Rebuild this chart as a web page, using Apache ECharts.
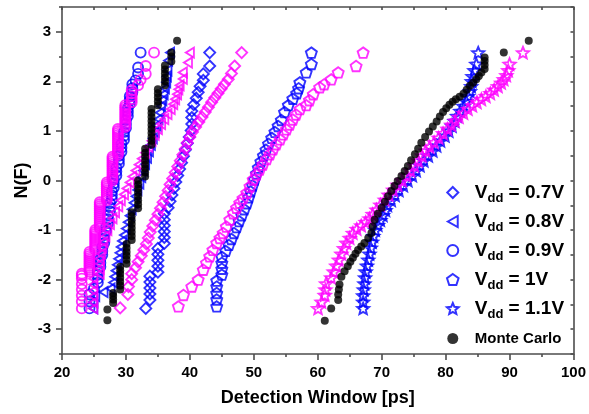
<!DOCTYPE html>
<html><head><meta charset="utf-8">
<script src="https://cdn.jsdelivr.net/npm/echarts@6/dist/echarts.min.js"></script>
<style>html,body{margin:0;padding:0;background:#fff}#c{width:589px;height:414px}</style>
</head><body><div id="c"></div>
<script>
// ---- data ([detection window ps, N(F)]) ----
const blue07 = [[33.1,-2.58],[33.75,-2.41],[33.75,-2.29],[33.75,-2.17],[33.75,-2.05],[33.75,-1.93],[35.0,-1.85],[35.0,-1.73],[35.0,-1.61],[35.0,-1.49],[35.0,-1.37],[36.0,-1.27],[36.0,-1.15],[36.0,-1.03],[36.0,-0.91],[36.0,-0.79],[36.0,-0.67],[36.6,-0.55],[36.9,-0.42],[37.2,-0.29],[37.5,-0.16],[37.8,-0.03],[38.1,0.1],[38.4,0.23],[38.7,0.36],[39.0,0.49],[39.3,0.62],[39.6,0.75],[39.9,0.88],[40.2,1.01],[40.3,1.14],[40.3,1.27],[40.3,1.4],[40.6,1.53],[41.0,1.66],[41.3,1.78],[41.6,1.9],[42.1,2.02],[42.1,2.15],[43.1,2.31],[43.1,2.58]];
const mag07 = [[29.1,-2.57],[30.3,-2.3],[30.4,-2.14],[30.9,-2.0],[30.9,-1.88],[31.5,-1.76],[31.9,-1.64],[32.4,-1.52],[32.8,-1.4],[33.2,-1.28],[33.5,-1.16],[33.8,-1.04],[34.2,-0.92],[34.6,-0.8],[35.0,-0.68],[35.4,-0.56],[35.8,-0.44],[36.2,-0.32],[36.6,-0.2],[36.9,-0.08],[37.3,0.04],[37.7,0.16],[38.1,0.28],[38.5,0.4],[38.9,0.52],[39.3,0.64],[39.6,0.76],[40.0,0.88],[40.4,0.98],[40.9,1.08],[41.4,1.18],[41.9,1.28],[42.4,1.38],[42.9,1.48],[43.4,1.58],[43.9,1.67],[44.4,1.76],[44.9,1.85],[45.4,1.94],[46.0,2.04],[46.5,2.16],[47.0,2.31],[48.1,2.58]];
const blue08 = [[24.9,-2.58],[24.9,-2.45],[25.2,-2.33],[26.5,-2.25],[27.6,-2.18],[28.0,-2.06],[28.2,-1.94],[28.4,-1.82],[28.6,-1.7],[28.8,-1.58],[29.0,-1.46],[29.2,-1.34],[29.4,-1.22],[29.7,-1.1],[30.0,-0.97],[30.3,-0.84],[30.6,-0.71],[30.9,-0.58],[31.2,-0.45],[31.5,-0.32],[31.8,-0.19],[32.1,-0.06],[32.4,0.07],[32.7,0.2],[33.0,0.33],[33.3,0.46],[33.6,0.59],[33.9,0.72],[34.2,0.85],[34.5,0.98],[34.8,1.11],[35.1,1.24],[35.3,1.37],[35.5,1.5],[35.7,1.62],[35.9,1.74],[36.1,1.86],[36.3,1.98],[36.4,2.1],[36.5,2.22],[36.6,2.42],[36.9,2.58]];
const mag08 = [[24.9,-2.58],[24.9,-2.46],[24.9,-2.34],[24.9,-2.22],[24.9,-2.1],[24.9,-1.98],[25.9,-1.88],[25.9,-1.78],[25.9,-1.68],[25.9,-1.58],[26.1,-1.48],[26.3,-1.36],[26.5,-1.24],[26.8,-1.12],[27.1,-1.0],[27.5,-0.88],[27.9,-0.76],[28.3,-0.64],[28.8,-0.52],[29.2,-0.4],[29.7,-0.28],[30.1,-0.16],[30.6,-0.04],[31.0,0.08],[31.5,0.2],[32.0,0.32],[32.5,0.44],[33.0,0.56],[33.5,0.68],[34.0,0.8],[34.5,0.92],[35.0,1.04],[35.5,1.14],[36.0,1.24],[36.5,1.34],[37.0,1.44],[37.4,1.54],[37.7,1.64],[38.0,1.74],[38.2,1.84],[38.4,1.92],[38.9,2.05],[38.9,2.18],[39.7,2.38],[40.0,2.58]];
const blue09 = [[24.3,-2.58],[24.3,-2.44],[24.3,-2.3],[25.0,-2.18],[25.6,-2.06],[25.6,-1.98],[25.6,-1.9],[25.6,-1.82],[26.0,-1.74],[26.0,-1.66],[26.0,-1.58],[26.3,-1.5],[26.3,-1.42],[26.3,-1.34],[26.6,-1.26],[26.6,-1.18],[26.6,-1.1],[26.9,-1.02],[26.9,-0.94],[27.2,-0.86],[27.2,-0.78],[27.2,-0.7],[27.5,-0.62],[27.5,-0.54],[27.5,-0.46],[27.8,-0.38],[27.8,-0.3],[27.8,-0.22],[28.1,-0.14],[28.1,-0.06],[28.1,0.02],[28.5,0.1],[28.5,0.18],[28.5,0.26],[28.9,0.34],[28.9,0.42],[28.9,0.5],[29.3,0.58],[29.3,0.66],[29.3,0.74],[29.7,0.82],[29.7,0.9],[29.7,0.98],[30.0,1.06],[30.0,1.14],[30.0,1.22],[30.3,1.3],[30.3,1.38],[30.3,1.46],[30.6,1.54],[30.6,1.62],[30.6,1.7],[31.0,1.78],[31.0,1.86],[31.0,1.94],[31.5,2.02],[31.9,2.15],[31.9,2.28],[32.3,2.58]];
const mag09 = [[23.1,-2.58],[23.1,-2.44],[23.1,-2.32],[23.1,-2.2],[23.1,-2.09],[23.1,-1.98],[23.1,-1.92],[23.1,-1.88],[24.3,-1.84],[24.3,-1.8],[24.3,-1.76],[24.3,-1.72],[24.3,-1.68],[24.3,-1.64],[24.3,-1.6],[24.3,-1.56],[24.3,-1.52],[24.3,-1.48],[24.3,-1.44],[25.2,-1.4],[25.2,-1.36],[25.2,-1.32],[25.2,-1.28],[25.2,-1.24],[25.2,-1.2],[25.2,-1.16],[25.2,-1.12],[25.2,-1.08],[25.2,-1.04],[25.2,-1.0],[25.9,-0.96],[25.9,-0.92],[25.9,-0.88],[25.9,-0.84],[25.9,-0.8],[25.9,-0.76],[25.9,-0.72],[25.9,-0.68],[25.9,-0.64],[25.9,-0.6],[25.9,-0.56],[25.9,-0.52],[25.9,-0.48],[25.9,-0.44],[27.0,-0.4],[27.0,-0.36],[27.0,-0.32],[27.0,-0.28],[27.0,-0.24],[27.0,-0.2],[27.0,-0.16],[27.0,-0.12],[27.0,-0.08],[27.0,-0.04],[27.9,0.0],[27.9,0.04],[27.9,0.08],[27.9,0.12],[27.9,0.16],[27.9,0.2],[27.9,0.24],[27.9,0.28],[27.9,0.32],[27.9,0.36],[27.9,0.4],[27.9,0.44],[27.9,0.48],[28.75,0.52],[28.75,0.56],[28.75,0.6],[28.75,0.64],[28.75,0.68],[28.75,0.72],[28.75,0.76],[28.75,0.8],[28.75,0.84],[28.75,0.88],[28.75,0.92],[28.75,0.96],[28.75,1.0],[28.75,1.04],[29.9,1.08],[29.9,1.12],[29.9,1.16],[29.9,1.2],[29.9,1.24],[29.9,1.28],[29.9,1.32],[29.9,1.36],[29.9,1.4],[29.9,1.44],[29.9,1.48],[29.9,1.52],[30.9,1.58],[30.9,1.64],[30.9,1.7],[30.9,1.76],[30.9,1.82],[31.9,1.92],[32.3,2.03],[33.1,2.15],[33.1,2.31],[34.4,2.58]];
const blue10 = [[44.2,-2.54],[44.2,-2.4],[44.2,-2.27],[44.2,-2.14],[44.2,-2.02],[45.0,-1.9],[45.0,-1.78],[45.0,-1.66],[45.0,-1.54],[45.6,-1.42],[46.1,-1.3],[46.5,-1.18],[46.9,-1.06],[47.3,-0.94],[47.7,-0.82],[48.1,-0.7],[48.5,-0.58],[48.9,-0.46],[49.2,-0.34],[49.5,-0.22],[49.8,-0.1],[50.1,0.02],[50.4,0.14],[50.7,0.26],[51.1,0.38],[51.5,0.5],[51.9,0.62],[52.3,0.74],[52.8,0.86],[53.3,0.98],[53.8,1.1],[54.3,1.22],[54.8,1.38],[55.4,1.52],[56.1,1.65],[56.7,1.76],[57.0,1.86],[57.2,1.98],[58.2,2.18],[59.0,2.35],[59.0,2.58]];
const mag10 = [[38.2,-2.54],[39.0,-2.31],[40.3,-2.14],[41.3,-2.0],[42.1,-1.8],[42.6,-1.66],[43.1,-1.53],[43.6,-1.4],[44.2,-1.26],[44.7,-1.16],[45.2,-1.06],[45.7,-0.93],[46.25,-0.79],[46.8,-0.66],[47.3,-0.55],[47.8,-0.45],[48.3,-0.36],[48.9,-0.25],[49.4,-0.12],[49.9,0.02],[50.4,0.12],[50.9,0.22],[51.4,0.32],[52.0,0.43],[52.5,0.53],[53.0,0.63],[53.5,0.73],[54.1,0.83],[54.6,0.93],[55.1,1.03],[55.6,1.13],[56.1,1.23],[56.6,1.33],[57.2,1.44],[58.2,1.52],[58.7,1.62],[59.3,1.74],[60.3,1.88],[61.0,1.94],[62.1,2.04],[63.2,2.18],[66.0,2.31],[67.1,2.58]];
const blue11 = [[67.1,-2.58],[67.1,-2.45],[67.1,-2.32],[67.2,-2.2],[67.3,-2.08],[67.4,-1.96],[67.5,-1.84],[67.7,-1.72],[67.9,-1.6],[68.1,-1.48],[68.3,-1.36],[68.5,-1.24],[68.7,-1.12],[69.0,-1.0],[69.4,-0.9],[69.8,-0.8],[70.2,-0.7],[70.6,-0.6],[70.9,-0.5],[71.5,-0.4],[72.1,-0.3],[72.7,-0.2],[73.4,-0.1],[74.1,0.0],[74.8,0.1],[75.4,0.2],[76.0,0.3],[76.6,0.4],[77.3,0.5],[78.0,0.6],[78.6,0.7],[79.2,0.8],[79.9,0.9],[80.5,1.0],[81.0,1.1],[81.4,1.2],[81.8,1.3],[82.3,1.4],[82.8,1.5],[83.2,1.6],[83.5,1.7],[83.8,1.8],[84.0,1.9],[84.1,2.0],[84.2,2.1],[84.5,2.22],[84.8,2.35],[85.1,2.58]];
const mag11 = [[60.05,-2.58],[60.6,-2.45],[61.1,-2.31],[61.2,-2.2],[61.3,-2.08],[62.1,-1.96],[62.5,-1.84],[62.9,-1.72],[63.3,-1.6],[63.7,-1.48],[64.1,-1.37],[64.5,-1.26],[65.0,-1.16],[65.5,-1.06],[66.1,-0.98],[66.8,-0.91],[67.5,-0.84],[68.1,-0.77],[68.6,-0.68],[69.2,-0.59],[69.8,-0.49],[70.5,-0.39],[71.1,-0.29],[71.8,-0.19],[72.5,-0.09],[73.2,0.0],[73.9,0.1],[74.5,0.2],[75.1,0.3],[75.7,0.4],[76.3,0.5],[76.9,0.6],[77.5,0.68],[78.2,0.77],[78.9,0.86],[79.6,0.95],[80.3,1.04],[80.9,1.12],[81.5,1.2],[82.1,1.28],[82.8,1.36],[83.5,1.44],[84.2,1.51],[84.9,1.58],[85.6,1.64],[86.3,1.7],[87.0,1.76],[87.6,1.83],[88.2,1.9],[88.7,1.97],[89.1,2.04],[89.5,2.12],[89.8,2.22],[90.0,2.35],[92.1,2.58]];
const mcLeft = [[27.1,-2.82],[27.1,-2.6],[28.0,-2.47],[28.0,-2.4],[28.0,-2.33],[28.0,-2.27],[29.1,-2.2],[29.1,-2.12],[29.1,-2.04],[29.1,-1.96],[29.1,-1.88],[29.1,-1.81],[29.1,-1.74],[30.1,-1.68],[30.1,-1.6],[30.1,-1.52],[30.1,-1.44],[30.1,-1.36],[30.1,-1.28],[30.9,-1.2],[30.9,-1.12],[30.9,-1.04],[30.9,-0.96],[30.9,-0.88],[30.9,-0.8],[30.9,-0.72],[30.9,-0.64],[31.9,-0.56],[31.9,-0.48],[31.9,-0.4],[31.9,-0.32],[31.9,-0.24],[31.9,-0.16],[31.9,-0.08],[31.9,0.0],[33.0,0.08],[33.0,0.16],[33.0,0.24],[33.0,0.32],[33.0,0.4],[33.0,0.48],[33.0,0.56],[33.0,0.64],[34.0,0.72],[34.0,0.8],[34.0,0.88],[34.0,0.96],[34.0,1.04],[34.0,1.12],[34.0,1.2],[34.0,1.28],[34.0,1.36],[34.0,1.44],[35.0,1.52],[35.0,1.6],[35.0,1.68],[35.0,1.76],[35.0,1.84],[36.1,1.92],[36.1,2.0],[36.1,2.08],[36.1,2.16],[36.1,2.24],[36.1,2.32],[37.1,2.4],[37.1,2.5],[37.1,2.58],[38.0,2.82]];
const mcRight = [[61.1,-2.83],[62.1,-2.58],[63.2,-2.41],[63.2,-2.3],[63.3,-2.2],[63.4,-2.1],[63.7,-1.94],[64.2,-1.83],[64.7,-1.73],[65.1,-1.64],[65.5,-1.56],[65.9,-1.48],[66.3,-1.4],[66.8,-1.33],[67.3,-1.26],[67.9,-1.16],[68.4,-1.06],[68.6,-0.93],[68.9,-0.79],[69.4,-0.67],[70.0,-0.55],[70.5,-0.43],[71.0,-0.32],[71.5,-0.21],[72.0,-0.11],[72.5,-0.01],[73.1,0.09],[73.6,0.19],[74.1,0.29],[74.6,0.41],[75.2,0.53],[75.7,0.64],[76.2,0.76],[76.8,0.88],[77.4,0.99],[78.0,1.09],[78.6,1.19],[79.1,1.29],[79.6,1.38],[80.1,1.46],[80.6,1.53],[81.1,1.59],[81.6,1.64],[82.2,1.69],[82.8,1.75],[83.3,1.83],[83.8,1.91],[84.3,1.97],[84.8,2.04],[85.2,2.11],[85.6,2.18],[86.1,2.25],[86.1,2.33],[86.1,2.41],[86.1,2.48],[89.1,2.58],[93.0,2.82]];
const legendNames = ['0.7V','0.8V','0.9V','1V','1.1V','Monte Carlo'];
const yTickMajor = [-3,-2,-1,0,1,2,3];
const yTickMinor = [-3.5,-2.5,-1.5,-0.5,0.5,1.5,2.5,3.5];

const BLUE = '#0000ff', MAG = '#ff00ff', BLK = '#000000';
const SYM = {
  diamond: 'path://M5,0L10,5L5,10L0,5Z',
  tri: 'path://M0,5L9,0L9,10Z',
  circle: 'circle',
  pent: 'path://M10,0L19.51,6.91L15.88,18.09L4.12,18.09L0.49,6.91Z',
  star: 'path://M10,0L12.65,6.36L19.51,6.91L14.28,11.39L15.88,18.09L10,14.5L4.12,18.09L5.72,11.39L0.49,6.91L7.35,6.36Z'
};
function sc(name, data, symbol, size, color, filled) {
  return {
    type: 'scatter', name: name, data: data, symbol: symbol, symbolSize: size,
    symbolKeepAspect: true, silent: true, animation: false,
    itemStyle: filled ? { color: color } : { color: 'rgba(0,0,0,0)', borderColor: color, borderWidth: 1.9 },
    emphasis: { disabled: true }
  };
}
const FONT = 'Liberation Sans, Arial, sans-serif';
const AX = { color: '#4d4d4d', width: 1.6 };

const chart = echarts.init(document.getElementById('c'), null, { renderer: 'canvas' });
chart.setOption({
  animation: false,
  backgroundColor: '#fff',
  grid: { left: 62, right: 15, top: 7, bottom: 60 },
  legend: {
    data: legendNames, orient: 'vertical', left: 441, top: 175,
    itemWidth: 34, itemHeight: 11, itemGap: 4, selectedMode: false,
    textStyle: {
      color: '#000', fontFamily: FONT, fontWeight: 'bold',
      rich: {
        v: { fontSize: 19, fontWeight: 'bold', fontFamily: FONT, color: '#000', lineHeight: 20 },
        s: { fontSize: 13, fontWeight: 'bold', fontFamily: FONT, color: '#000', lineHeight: 14, padding: [12, 0, 0, 0] },
        m: { fontSize: 15, fontWeight: 'bold', fontFamily: FONT, color: '#000', lineHeight: 18, padding: [6, 0, 6, 0] }
      }
    },
    formatter: function (n) { return n === 'Monte Carlo' ? '{m|Monte Carlo}' : '{v|V}{s|dd}{v| = ' + n + '}'; }
  },
  xAxis: [
    { type: 'value', position: 'bottom', min: 20, max: 100, interval: 10,
      axisLine: { onZero: false, lineStyle: AX }, axisTick: { length: 6, lineStyle: AX },
      minorTick: { show: true, splitNumber: 2, length: 3, lineStyle: AX },
      splitLine: { show: false },
      axisLabel: { color: '#000', fontSize: 15, fontWeight: 'bold', fontFamily: FONT, margin: 11 },
      name: 'Detection Window [ps]', nameLocation: 'middle', nameGap: 35, nameMoveOverlap: false,
      nameTextStyle: { color: '#000', fontSize: 18, fontWeight: 'bold', fontFamily: FONT } },
    { type: 'value', position: 'top', min: 20, max: 100, interval: 10,
      axisLine: { onZero: false, lineStyle: AX }, axisTick: { inside: true, length: 3, lineStyle: AX },
      minorTick: { show: true, splitNumber: 2, length: 3, lineStyle: AX },
      splitLine: { show: false }, axisLabel: { show: false } }
  ],
  yAxis: [
    { type: 'value', position: 'left', min: -3.5, max: 3.5, interval: 0.5,
      axisLine: { show: true, onZero: false, lineStyle: AX },
      axisTick: { show: true, length: 6, lineStyle: AX, customValues: yTickMajor },
      axisLabel: { customValues: yTickMajor, color: '#000', fontSize: 15, fontWeight: 'bold', fontFamily: FONT, margin: 11 },
      splitLine: { show: false },
      name: 'N(F)', nameLocation: 'middle', nameGap: 31, nameMoveOverlap: false,
      nameTextStyle: { color: '#000', fontSize: 18, fontWeight: 'bold', fontFamily: FONT } },
    { type: 'value', position: 'left', min: -3.5, max: 3.5, interval: 0.5,
      axisLine: { show: false, onZero: false },
      axisTick: { show: true, length: 3, lineStyle: AX, customValues: yTickMinor },
      axisLabel: { show: false }, splitLine: { show: false } },
    { type: 'value', position: 'right', min: -3.5, max: 3.5, interval: 0.5,
      axisLine: { show: true, onZero: false, lineStyle: AX },
      axisTick: { show: true, inside: true, length: 3, lineStyle: AX },
      axisLabel: { show: false }, splitLine: { show: false } }
  ],
  series: [
    sc('0.7V', blue07, SYM.diamond, 11, BLUE),
    sc('0.8V', blue08, SYM.tri, [9, 10], BLUE),
    sc('0.9V', blue09, SYM.circle, 10, BLUE),
    sc('1V', blue10, SYM.pent, 11, BLUE),
    sc('1.1V', blue11, SYM.star, 12, BLUE),
    sc('0.7V', mag07, SYM.diamond, 11, MAG),
    sc('0.8V', mag08, SYM.tri, [9, 10], MAG),
    sc('0.9V', mag09, SYM.circle, 10, MAG),
    sc('1V', mag10, SYM.pent, 11, MAG),
    sc('1.1V', mag11, SYM.star, 12, MAG),
    sc('Monte Carlo', mcLeft, 'circle', 8, BLK, true),
    sc('Monte Carlo', mcRight, 'circle', 8, BLK, true)
  ]
});
</script></body></html>
